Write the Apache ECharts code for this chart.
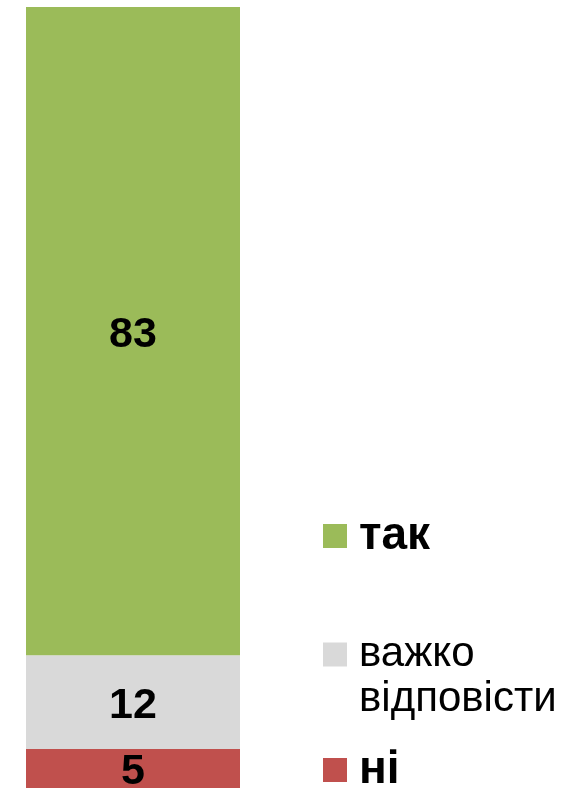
<!DOCTYPE html>
<html>
<head>
<meta charset="utf-8">
<script src="https://cdn.jsdelivr.net/npm/echarts@6/dist/echarts.min.js"></script>
<style>
html,body{margin:0;padding:0;background:#fff;}
#chart{width:580px;height:788px;}
</style>
</head>
<body>
<div id="chart"></div>
<script>
const categories = ['q'];
const seriesNames = ['ні', 'важко відповісти', 'так'];
const valuesNi = [5];
const valuesHard = [12];
const valuesYes = [83];
const colors = ['#C0504D', '#D9D9D9', '#9BBB59'];

const FONT = "Arial, 'Liberation Sans', sans-serif";
const chart = echarts.init(document.getElementById('chart'));

function mkSeries(name, data, color) {
  return {
    name: name, type: 'bar', stack: 'total', data: data,
    barWidth: '100%',
    itemStyle: { color: color },
    label: { show: true, position: 'inside', offset: [0, 4], color: '#000', fontWeight: 'bold', fontSize: 43, fontFamily: FONT },
    emphasis: { disabled: true }
  };
}

function mkLegend(name, top, bold, formatter) {
  return {
    data: [name], left: 323, top: top, padding: 0, orient: 'vertical',
    itemWidth: 24, itemHeight: 24, icon: 'rect', selectedMode: false,
    formatter: formatter || '{name}',
    textStyle: { fontFamily: FONT, fontSize: bold ? 46 : 42, fontWeight: bold ? 'bold' : 'normal',
      color: '#000', lineHeight: bold ? 48 : 45, padding: [0, 0, 0, 7] }
  };
}

chart.setOption({
  animation: false,
  grid: { left: 26, width: 214, top: 7, height: 785 },
  xAxis: { type: 'category', data: categories, show: false },
  yAxis: { type: 'value', min: 0, max: 100, show: false },
  legend: [
    mkLegend(seriesNames[2], 512, true),
    mkLegend(seriesNames[1], 587, false, function () { return '\nважко\nвідповісти'; }),
    mkLegend(seriesNames[0], 746, true)
  ],
  series: [
    mkSeries(seriesNames[0], valuesNi, colors[0]),
    mkSeries(seriesNames[1], valuesHard, colors[1]),
    mkSeries(seriesNames[2], valuesYes, colors[2])
  ]
});
</script>
</body>
</html>
